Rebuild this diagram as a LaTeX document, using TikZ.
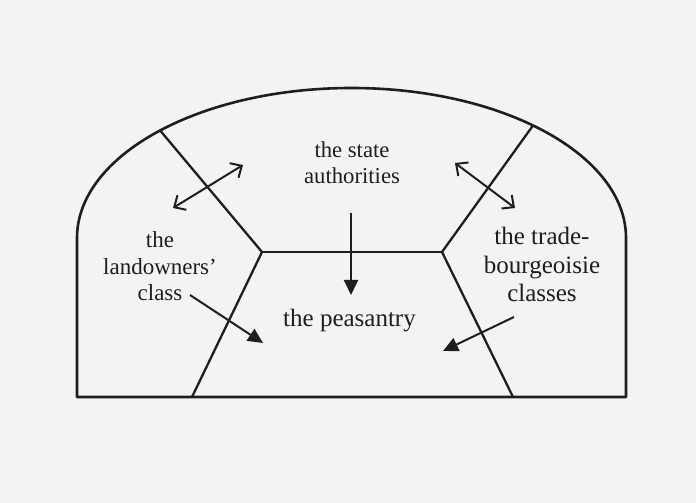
\documentclass[tikz,border=0pt]{standalone}
\usepackage{fontspec}
\setmainfont{Liberation Serif}
\usetikzlibrary{arrows.meta,calc}
\definecolor{paper}{RGB}{243,243,245}
\definecolor{ink}{RGB}{30,30,30}
\tikzset{
  outline/.style={draw=ink, line width=2.6pt, line join=round},
  divider/.style={draw=ink, line width=2.3pt, line join=miter},
  twoway/.style={draw=ink, line width=2pt, {Straight Barb[length=9pt,width=17pt,line width=2pt]}-{Straight Barb[length=9pt,width=17pt,line width=2pt]}},
  oneway/.style={draw=ink, line width=2pt, -{Triangle[length=15pt,width=14pt]}},
  label/.style={text=ink, align=center, anchor=base, inner sep=0pt},
}
\begin{document}
\begin{tikzpicture}[x=1pt,y=1pt]
\fill[paper] (0,0) rectangle (696,503);
\useasboundingbox (0,0) rectangle (696,503);
% outer shape
\coordinate (ctr) at (351.5,265);
\draw[outline] (77,106) -- (77,265) arc[start angle=180, end angle=0, x radius=274.5, y radius=150] -- (626,106) -- cycle;
% division points
\coordinate (lt) at ($(ctr)+(134.2:274.5 and 150)$);
\coordinate (rt) at ($(ctr)+(48.6:274.5 and 150)$);
\coordinate (tl) at (262,251);
\coordinate (tr) at (442,251);
\coordinate (bl) at (192,106);
\coordinate (br) at (513,106);
\draw[divider] (lt) -- (tl) -- (bl);
\draw[divider] (rt) -- (tr) -- (br);
\draw[divider] (tl) -- (tr);
% texts (base anchor = baseline of last line)
\node[label, font=\fontsize{22.7}{26}\selectfont] (state) at (352,319) {the state\\authorities};
\node[label, font=\fontsize{23}{26.5}\selectfont] (land) at (160,202) {the\\landowners’\\class};
\node[label, font=\fontsize{25}{28.5}\selectfont] (trade) at (542,201) {the trade-\\bourgeoisie\\classes};
\node[label, font=\fontsize{25}{28.5}\selectfont] (peas) at (349.5,176) {the peasantry};
% arrows
\coordinate (la1) at (173,295);
\coordinate (la2) at (243,338);
\coordinate (ra1) at (455,340);
\coordinate (ra2) at (515,295);
\coordinate (d1) at (351,290);
\coordinate (d2) at (351,208);
\coordinate (l1) at (190,208);
\coordinate (l2) at (263,160);
\coordinate (t1) at (514,186);
\coordinate (t2) at (443,152);
\draw[twoway] (la1) -- (la2);
\draw[twoway] (ra1) -- (ra2);
\draw[oneway] (d1) -- (d2);
\draw[oneway] (l1) -- (l2);
\draw[oneway] (t1) -- (t2);
\end{tikzpicture}
\end{document}
